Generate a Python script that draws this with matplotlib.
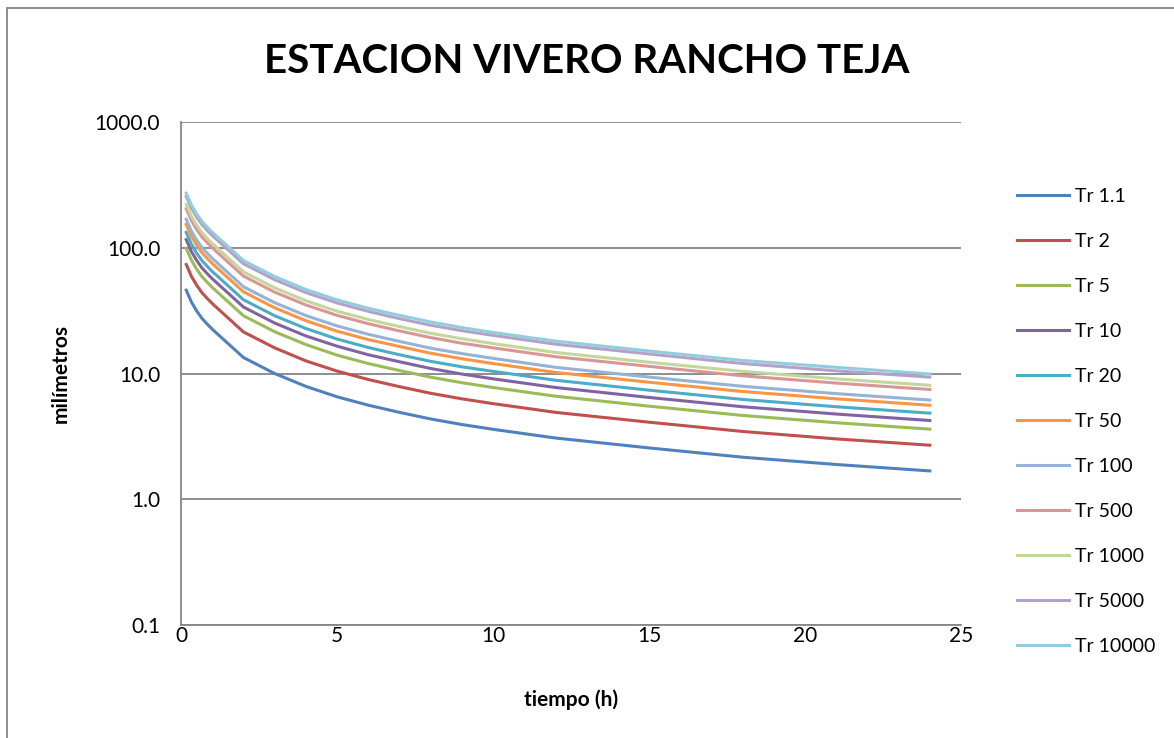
import matplotlib.pyplot as plt
from matplotlib.patches import Rectangle
from matplotlib.ticker import FixedLocator, FixedFormatter, NullLocator

# --- DATA ---
# duration in hours (10, 20, 30, 40, 50, 60 min, then hours)
horas = [1/6, 1/3, 1/2, 2/3, 5/6, 1, 2, 3, 4, 5, 6, 7, 8, 9, 10, 12, 15, 18, 21, 24]

tr_1_1 = [46.0, 37.0, 31.5, 27.5, 24.8, 22.5, 13.4, 10.0, 7.9, 6.53, 5.6, 4.91, 4.35, 3.93, 3.6, 3.07, 2.56, 2.16, 1.89, 1.68]
tr_2 = [73.6, 59.2, 50.4, 44.0, 39.7, 36.0, 21.4, 16.0, 12.6, 10.45, 8.96, 7.86, 6.96, 6.29, 5.76, 4.91, 4.10, 3.46, 3.02, 2.69]
tr_5 = [98.9, 79.6, 67.7, 59.1, 53.3, 48.4, 28.8, 21.5, 17.0, 14.0, 12.0, 10.56, 9.35, 8.45, 7.74, 6.60, 5.50, 4.64, 4.06, 3.61]
tr_10 = [115.9, 93.2, 79.4, 69.3, 62.5, 56.7, 33.8, 25.2, 19.9, 16.5, 14.1, 12.4, 10.96, 9.90, 9.07, 7.74, 6.45, 5.44, 4.76, 4.23]
tr_20 = [132.5, 106.6, 90.7, 79.2, 71.4, 64.8, 38.6, 28.8, 22.8, 18.8, 16.1, 14.1, 12.5, 11.3, 10.4, 8.84, 7.37, 6.22, 5.44, 4.84]
tr_50 = [153.2, 123.2, 104.9, 91.6, 82.6, 74.9, 44.6, 33.3, 26.3, 21.7, 18.6, 16.4, 14.5, 13.1, 12.0, 10.2, 8.52, 7.19, 6.29, 5.59]
tr_100 = [168.4, 135.4, 115.3, 100.7, 90.8, 82.4, 49.0, 36.6, 28.9, 23.9, 20.5, 18.0, 15.9, 14.4, 13.2, 11.2, 9.37, 7.91, 6.92, 6.15]
tr_500 = [204.2, 164.3, 139.9, 122.1, 110.1, 99.9, 59.5, 44.4, 35.1, 29.0, 24.9, 21.8, 19.3, 17.4, 16.0, 13.6, 11.4, 9.59, 8.39, 7.46]
tr_1000 = [220.8, 177.6, 151.2, 132.0, 119.0, 108.0, 64.3, 48.0, 37.9, 31.3, 26.9, 23.6, 20.9, 18.9, 17.3, 14.7, 12.3, 10.4, 9.07, 8.06]
tr_5000 = [256.2, 206.1, 175.5, 153.2, 138.1, 125.3, 74.6, 55.7, 44.0, 36.4, 31.2, 27.3, 24.2, 21.9, 20.1, 17.1, 14.3, 12.0, 10.5, 9.36]
tr_10000 = [271.4, 218.3, 185.9, 162.3, 146.3, 132.8, 79.1, 59.0, 46.6, 38.5, 33.0, 29.0, 25.7, 23.2, 21.2, 18.1, 15.1, 12.7, 11.2, 9.91]

series = [tr_1_1, tr_2, tr_5, tr_10, tr_20, tr_50, tr_100, tr_500, tr_1000, tr_5000, tr_10000]
labels = ["Tr 1.1", "Tr 2", "Tr 5", "Tr 10", "Tr 20", "Tr 50", "Tr 100",
          "Tr 500", "Tr 1000", "Tr 5000", "Tr 10000"]
y_ticks = [0.1, 1, 10, 100, 1000]
y_tick_labels = ["0.1", "1.0", "10.0", "100.0", "1000.0"]

# excel 2007 palette
colors = ["#4F81BD", "#C0504D", "#9BBB59", "#8064A2", "#4BACC6", "#F79646",
          "#95B3D7", "#D99694", "#C3D69B", "#B3A2C7", "#93CDDD"]

plt.rcParams['font.family'] = ['Lato', 'DejaVu Sans']

fig = plt.figure(figsize=(11.74, 7.38), dpi=100)
ax = fig.add_axes([0.1542, 0.1531, 0.6644, 0.6816])

for vals, lab, c in zip(series, labels, colors):
    ax.plot(horas, vals, color=c, lw=2.2, label=lab)

ax.set_yscale('log')
ax.set_ylim(0.1, 1000)
ax.set_xlim(0, 25)
ax.set_xticks([0, 5, 10, 15, 20, 25])
ax.yaxis.set_major_locator(FixedLocator(y_ticks))
ax.yaxis.set_major_formatter(FixedFormatter(y_tick_labels))
ax.yaxis.set_minor_locator(NullLocator())
ax.tick_params(length=0, labelsize=15)
ax.tick_params(axis='y', pad=15)
ax.tick_params(axis='x', pad=1)

ax.grid(axis='y', color='#868686', lw=1.3)
ax.set_axisbelow(True)
for s in ['top', 'right']:
    ax.spines[s].set_visible(False)
for s in ['left', 'bottom']:
    ax.spines[s].set_color('#868686')
    ax.spines[s].set_linewidth(1.3)

ax.set_xlabel("tiempo (h)", fontsize=15, fontweight='bold', labelpad=31)
ax.set_ylabel("milímetros", fontsize=15, fontweight='bold', labelpad=17)

fig.text(0.5, 0.917, "ESTACION VIVERO RANCHO TEJA", ha='center', va='center',
         fontsize=29, fontweight='bold')

leg = fig.legend(loc='upper left', bbox_to_anchor=(0.851, 0.769), frameon=False,
                 fontsize=14, handlelength=2.7, handletextpad=0.3, labelspacing=1.44)

# chart border
fig.add_artist(Rectangle((7/1174, -0.1), 1.2, 1.1 - 8/738, transform=fig.transFigure,
                         fill=False, edgecolor='#868686', lw=1.3))

fig.savefig("out.png", dpi=100)
